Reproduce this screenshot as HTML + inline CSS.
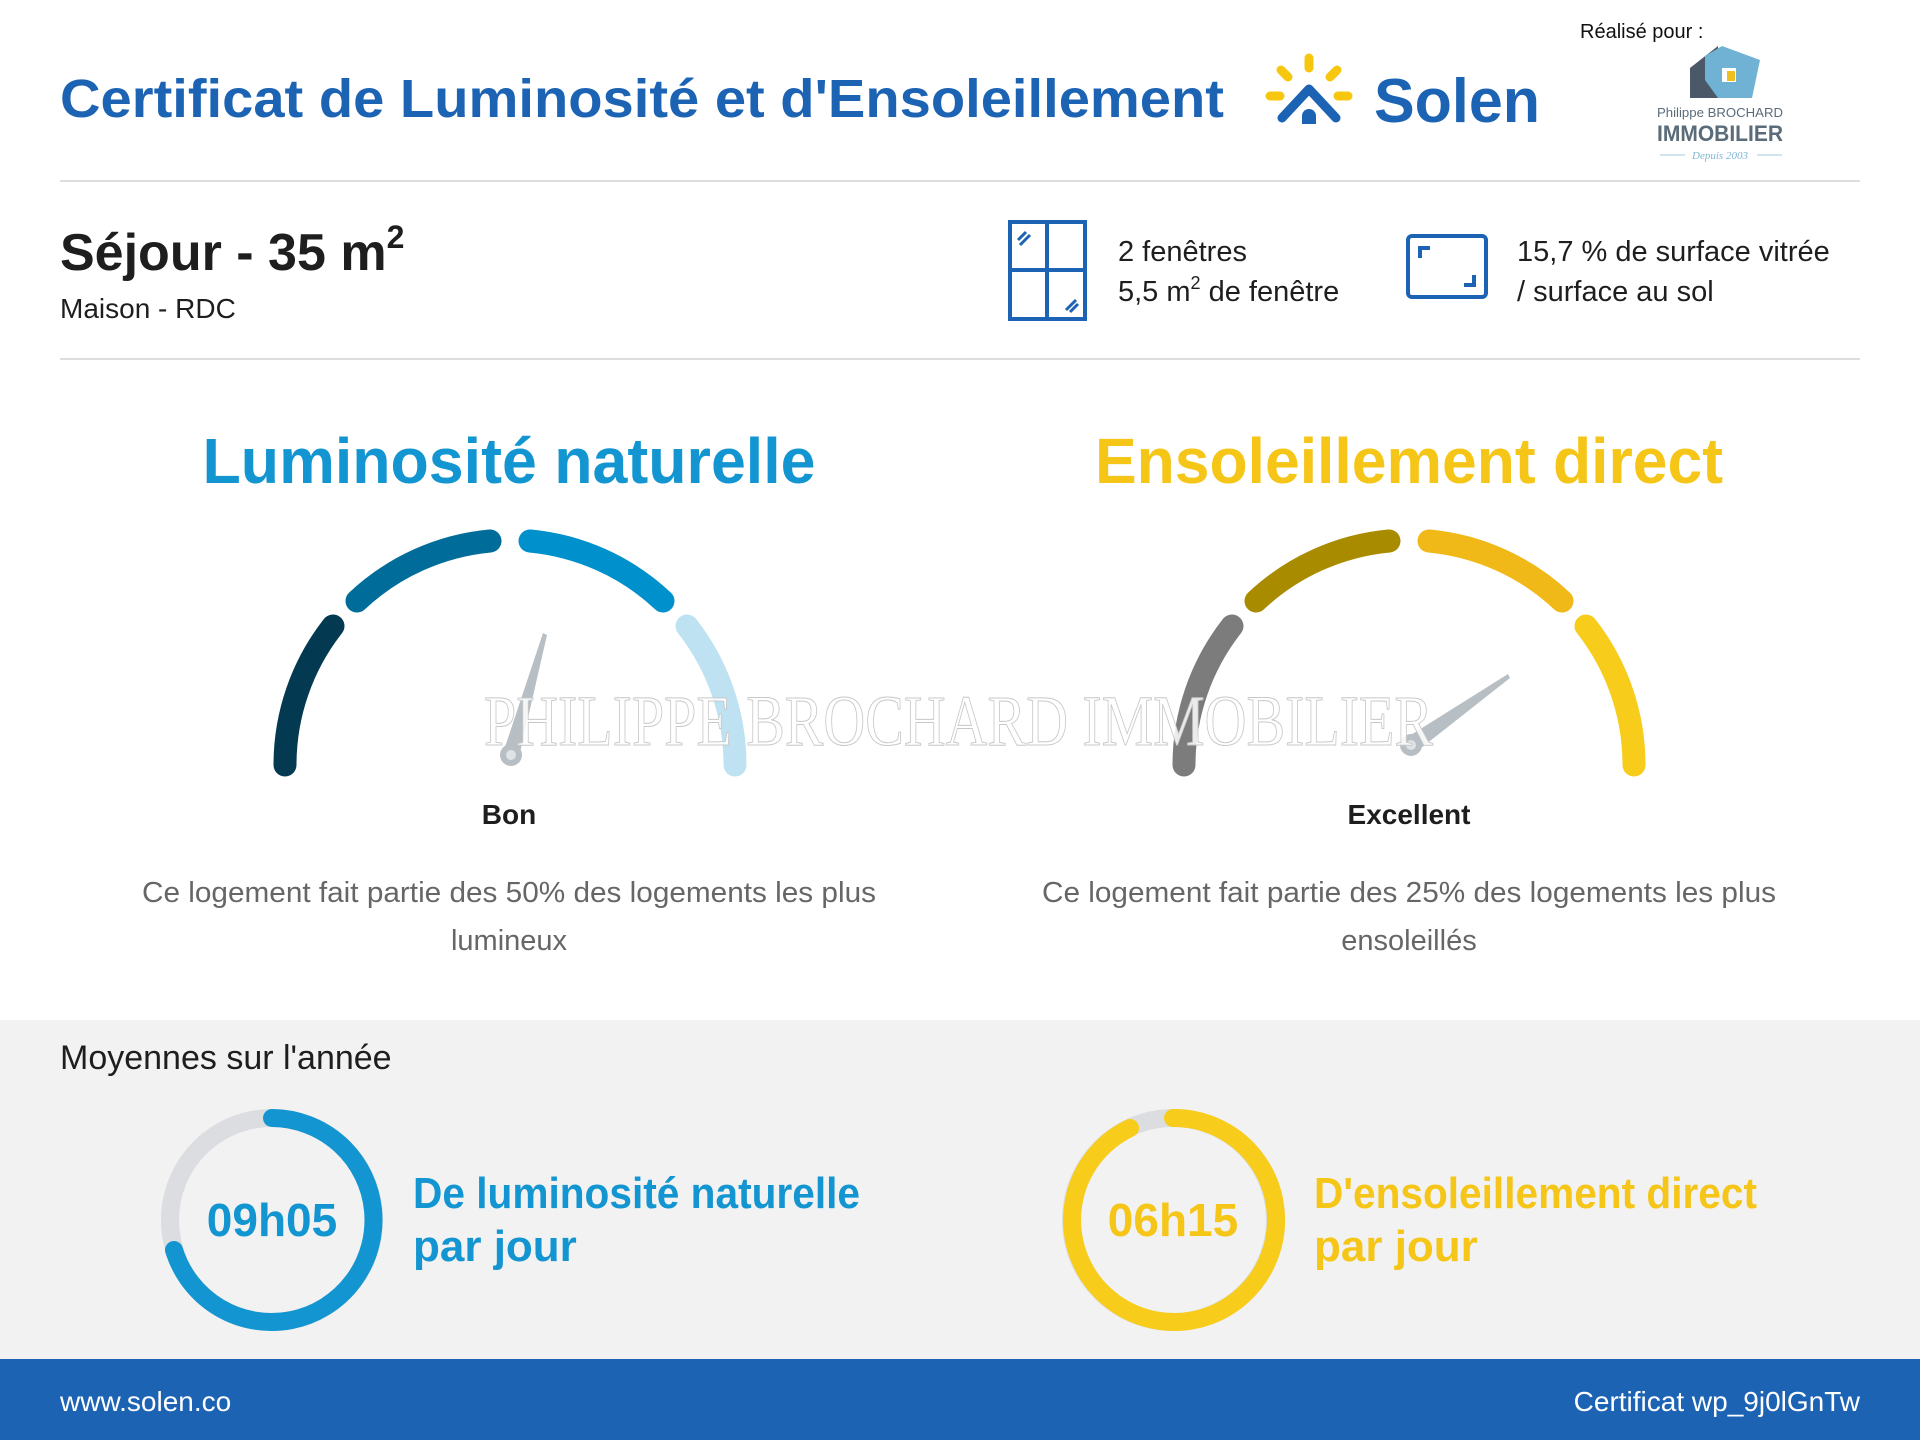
<!DOCTYPE html>
<html><head><meta charset="utf-8"><style>
html,body{margin:0;padding:0;background:#fff;}
svg{display:block}
text{font-family:"Liberation Sans",sans-serif}
</style></head><body>
<svg width="1920" height="1440" viewBox="0 0 1920 1440" xmlns="http://www.w3.org/2000/svg">
<rect width="1920" height="1440" fill="#fff"/>
<text x="60" y="117" font-size="54" font-weight="bold" fill="#1c63b4" textLength="1164" lengthAdjust="spacingAndGlyphs">Certificat de Luminosité et d'Ensoleillement</text>
<g stroke-linecap="round" fill="none">
<line x1="1309" y1="58" x2="1309" y2="68" stroke="#f7c70f" stroke-width="9"/>
<line x1="1281" y1="70" x2="1288" y2="77" stroke="#f7c70f" stroke-width="9"/>
<line x1="1337" y1="70" x2="1330" y2="77" stroke="#f7c70f" stroke-width="9"/>
<line x1="1270" y1="96" x2="1280" y2="96" stroke="#f7c70f" stroke-width="9"/>
<line x1="1338" y1="96" x2="1348" y2="96" stroke="#f7c70f" stroke-width="9"/>
<polyline points="1282,118 1309,89 1336,118" stroke="#1c63b4" stroke-width="9" stroke-linejoin="round"/>
</g>
<path d="M1302,124 L1302,116 A7,7 0 0 1 1316,116 L1316,124 Z" fill="#1c63b4"/>
<text x="1374" y="122" font-size="62" font-weight="bold" fill="#1c63b4" textLength="166" lengthAdjust="spacingAndGlyphs">Solen</text>
<text x="1580" y="38" font-size="20" fill="#111">Réalisé pour :</text>
<polygon points="1690,68 1718,46 1718,98 1690,98" fill="#4a5868"/>
<polygon points="1705,56 1722,46 1760,60 1752,98 1718,98 1705,80" fill="#6fb2d4"/>
<rect x="1722" y="68" width="14" height="14" fill="#fff"/>
<rect x="1727" y="71" width="8" height="10" fill="#f0c020"/>
<text x="1657" y="117" font-size="13" fill="#5a6b7a" textLength="126" lengthAdjust="spacingAndGlyphs">Philippe BROCHARD</text>
<text x="1657" y="141" font-size="22" font-weight="bold" fill="#5a6b7a" textLength="126" lengthAdjust="spacingAndGlyphs">IMMOBILIER</text>
<line x1="1660" y1="155" x2="1685" y2="155" stroke="#9cc8de" stroke-width="1"/>
<line x1="1757" y1="155" x2="1782" y2="155" stroke="#9cc8de" stroke-width="1"/>
<text x="1720" y="159" font-size="11" font-style="italic" fill="#7fb7d6" text-anchor="middle" style="font-family:'Liberation Serif',serif">Depuis 2003</text>
<line x1="60" y1="181" x2="1860" y2="181" stroke="#dddddd" stroke-width="2"/>
<text x="60" y="270" font-size="52" font-weight="bold" fill="#1e1e1e">Séjour - 35 m<tspan font-size="32" dy="-22">2</tspan></text>
<text x="60" y="318" font-size="28" fill="#1e1e1e">Maison - RDC</text>
<g fill="none" stroke="#1c63b4" stroke-width="4">
<rect x="1010" y="222" width="75" height="97"/>
<line x1="1047" y1="222" x2="1047" y2="319"/>
<line x1="1010" y1="270" x2="1085" y2="270"/>
<line x1="1018" y1="240" x2="1026" y2="232" stroke-width="3"/>
<line x1="1020" y1="245" x2="1030" y2="235" stroke-width="3"/>
<line x1="1066" y1="310" x2="1076" y2="300" stroke-width="3"/>
<line x1="1070" y1="312" x2="1078" y2="304" stroke-width="3"/>
<rect x="1408" y="236" width="78" height="61" rx="4"/>
<polyline points="1420,258 1420,248 1430,248"/>
<polyline points="1474,275 1474,285 1464,285"/>
</g>
<text x="1118" y="261" font-size="29" fill="#1e1e1e">2 fenêtres</text>
<text x="1118" y="301" font-size="29" fill="#1e1e1e">5,5 m<tspan font-size="18" dy="-12">2</tspan><tspan dy="12"> de fenêtre</tspan></text>
<text x="1517" y="261" font-size="29" fill="#1e1e1e">15,7 % de surface vitrée</text>
<text x="1517" y="301" font-size="29" fill="#1e1e1e">/ surface au sol</text>
<line x1="60" y1="359" x2="1860" y2="359" stroke="#dddddd" stroke-width="2"/>
<text x="509" y="483" font-size="64" font-weight="bold" fill="#1295d0" text-anchor="middle" textLength="613" lengthAdjust="spacingAndGlyphs">Luminosité naturelle</text>
<text x="1409" y="483" font-size="64" font-weight="bold" fill="#f5c518" text-anchor="middle" textLength="628" lengthAdjust="spacingAndGlyphs">Ensoleillement direct</text>
<g fill="none" stroke-width="23" stroke-linecap="round" transform="translate(0,5)">
<path d="M285,760 A225,225 0 0 1 333,621" stroke="#033a52"/>
<path d="M357,596 A225,225 0 0 1 490,536" stroke="#006c99"/>
<path d="M530,536 A225,225 0 0 1 663,596" stroke="#0090cc"/>
<path d="M687,621 A225,225 0 0 1 735,760" stroke="#bfe2f3"/>
<path d="M1184,760 A225,225 0 0 1 1232,621" stroke="#7c7c7c"/>
<path d="M1256,596 A225,225 0 0 1 1389,536" stroke="#a98b00"/>
<path d="M1429,536 A225,225 0 0 1 1562,596" stroke="#f0b918"/>
<path d="M1586,621 A225,225 0 0 1 1634,760" stroke="#f7cc1a"/>
</g>
<polygon points="519,757 503,753 543,633 547,635" fill="#b8bfc4"/>
<circle cx="511" cy="755" r="11" fill="#b8bfc4"/><circle cx="511" cy="755" r="5" fill="#dfe3e6"/>
<polygon points="1416,752 1406,738 1508,674 1510,678" fill="#b8bfc4"/>
<circle cx="1411" cy="745" r="11" fill="#b8bfc4"/><circle cx="1411" cy="745" r="5" fill="#dfe3e6"/>
<text x="484" y="745" font-size="72" style="font-family:'Liberation Serif',serif" fill="#ffffff" fill-opacity="0.85" stroke="#c8c8c8" stroke-width="1" textLength="949" lengthAdjust="spacingAndGlyphs">PHILIPPE BROCHARD IMMOBILIER</text>
<text x="509" y="824" font-size="28" font-weight="bold" fill="#1e1e1e" text-anchor="middle">Bon</text>
<text x="1409" y="824" font-size="28" font-weight="bold" fill="#1e1e1e" text-anchor="middle">Excellent</text>
<text x="509" y="902" font-size="29" fill="#666" text-anchor="middle" textLength="734" lengthAdjust="spacingAndGlyphs">Ce logement fait partie des 50% des logements les plus</text>
<text x="509" y="950" font-size="29" fill="#666" text-anchor="middle">lumineux</text>
<text x="1409" y="902" font-size="29" fill="#666" text-anchor="middle" textLength="734" lengthAdjust="spacingAndGlyphs">Ce logement fait partie des 25% des logements les plus</text>
<text x="1409" y="950" font-size="29" fill="#666" text-anchor="middle">ensoleillés</text>
<rect x="0" y="1020" width="1920" height="340" fill="#f2f2f2"/>
<text x="60" y="1069" font-size="34" fill="#1e1e1e">Moyennes sur l'année</text>
<circle cx="272" cy="1220" r="102" fill="none" stroke="#dcdde0" stroke-width="18"/>
<path d="M272,1118 A102,102 0 1 1 174,1250" fill="none" stroke="#1295d0" stroke-width="18" stroke-linecap="round"/>
<text x="272" y="1236" font-size="46" font-weight="bold" fill="#1295d0" text-anchor="middle">09h05</text>
<text x="413" y="1208" font-size="44" font-weight="bold" fill="#1295d0" textLength="447" lengthAdjust="spacingAndGlyphs">De luminosité naturelle</text>
<text x="413" y="1261" font-size="44" font-weight="bold" fill="#1295d0">par jour</text>
<circle cx="1173" cy="1220" r="102" fill="none" stroke="#dcdde0" stroke-width="18"/>
<path d="M1173,1118 A102,102 0 1 1 1130,1128" fill="none" stroke="#f7cc1a" stroke-width="18" stroke-linecap="round"/>
<text x="1173" y="1236" font-size="46" font-weight="bold" fill="#f5c518" text-anchor="middle">06h15</text>
<text x="1314" y="1208" font-size="44" font-weight="bold" fill="#f5c518" textLength="443" lengthAdjust="spacingAndGlyphs">D'ensoleillement direct</text>
<text x="1314" y="1261" font-size="44" font-weight="bold" fill="#f5c518">par jour</text>
<rect x="0" y="1359" width="1920" height="81" fill="#1c63b4"/>
<text x="60" y="1411" font-size="28" fill="#fff">www.solen.co</text>
<text x="1860" y="1411" font-size="28" fill="#fff" text-anchor="end">Certificat wp_9j0lGnTw</text>
</svg>
</body></html>
